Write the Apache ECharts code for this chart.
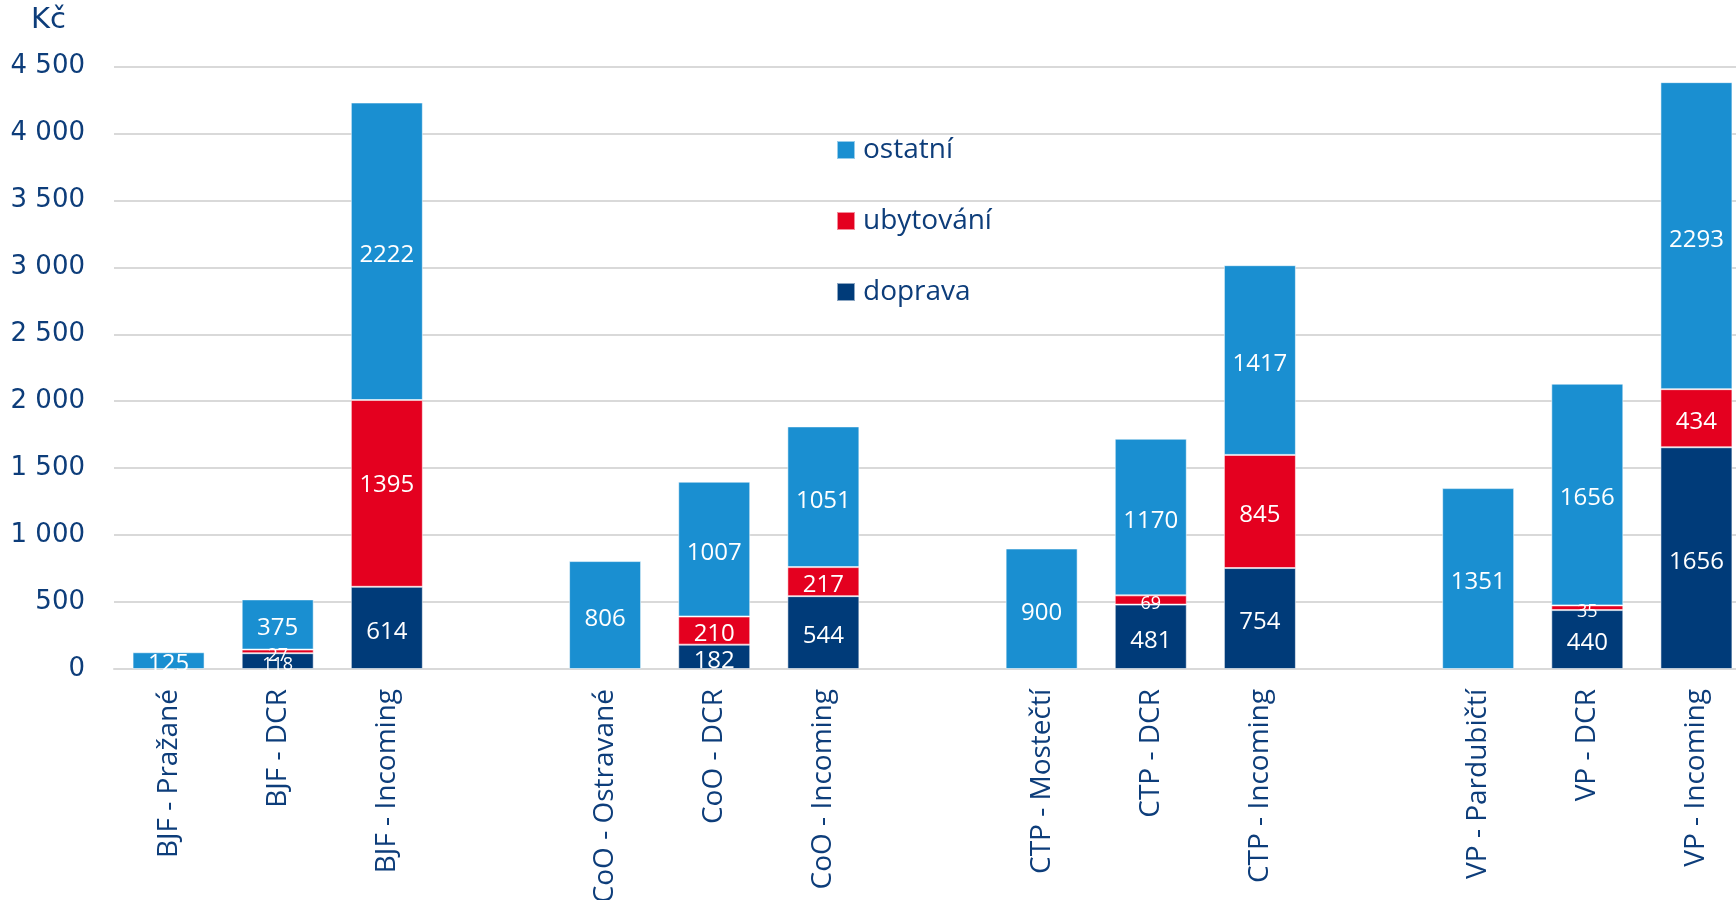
<!DOCTYPE html>
<html>
<head>
<meta charset="utf-8">
<script src="https://cdn.jsdelivr.net/npm/echarts@6/dist/echarts.min.js"></script>
<style>html,body{margin:0;padding:0;background:#fff}#c{width:1736px;height:900px}</style>
</head>
<body>
<div id="c"></div>
<script>
const categories = ['BJF - Pražané','BJF - DCR','BJF - Incoming','',
  'CoO - Ostravané','CoO - DCR','CoO - Incoming','',
  'CTP - Mostečtí','CTP - DCR','CTP - Incoming','',
  'VP - Pardubičtí','VP - DCR','VP - Incoming'];
const doprava   = [null,118,614,null, null,182,544,null, null,481,754,null, null,440,1656];
const ubytovani = [null,27,1395,null, null,210,217,null, null,69,845,null, null,35,434];
const ostatni   = [125,375,2222,null, 806,1007,1051,null, 900,1170,1417,null, 1351,1656,2293];
const yTicks = [0,500,1000,1500,2000,2500,3000,3500,4000,4500];

// indices whose labels are drawn in a smaller font
const smallDoprava = [1];
const smallUbyt = [1,9,13];
// labels placed higher than centre in the original
const raisedUbyt = [2];

const NAVY = '#0d3d7a';
const FONT_LABEL = '"Open Sans", "Noto Sans", sans-serif';

function mk(arr, small, raised) {
  return arr.map((v,i) => {
    if (v === null) return '-';
    const o = {value: v};
    if (small.indexOf(i) >= 0) o.label = {fontSize: 18};
    if (raised.indexOf(i) >= 0) o.label = {offset: [0, -8]};
    return o;
  });
}

function series(name, arr, color, small, raised) {
  return {
    name: name, type: 'bar', stack: 'a', barWidth: 72,
    itemStyle: {color: color, borderColor: 'rgba(255,255,255,0.55)', borderWidth: 1},
    label: {show: true, position: 'inside', color: '#fff', fontSize: 24, offset: [0, 4],
      fontFamily: FONT_LABEL, formatter: p => String(p.value)},
    data: mk(arr, small, raised)
  };
}

const chart = echarts.init(document.getElementById('c'), null, {renderer: 'canvas'});
chart.setOption({
  animation: false,
  title: {text: 'Kč', left: 31, top: 6, padding: 0,
    textStyle: {color: NAVY, fontSize: 29, fontWeight: 'normal', fontFamily: '"DejaVu Sans", sans-serif'}},
  legend: {
    orient: 'vertical', left: 836, top: 136, padding: 0, itemWidth: 18, itemHeight: 18, itemGap: 43,
    data: ['ostatní','ubytování','doprava'],
    icon: 'rect',
    textStyle: {color: NAVY, fontSize: 28, lineHeight: 28, fontFamily: FONT_LABEL, padding: [0,0,0,3]}
  },
  grid: {left: 114, right: -15, top: 66.5, bottom: 231, containLabel: false, outerBoundsMode: 'none'},
  xAxis: {
    type: 'category', data: categories,
    axisLine: {lineStyle: {color: '#d9d9d9', width: 2}},
    axisTick: {show: false},
    axisLabel: {rotate: 90, interval: 0, margin: 20, color: NAVY, fontSize: 28, fontFamily: FONT_LABEL}
  },
  yAxis: {
    type: 'value', min: 0, max: 4500, interval: 500,
    axisLine: {show: false}, axisTick: {show: false},
    splitLine: {lineStyle: {color: '#d9d9d9', width: 2}},
    axisLabel: {margin: 29, color: NAVY, fontSize: 26, fontFamily: '"DejaVu Sans", sans-serif',
      formatter: v => yTicks.indexOf(v) >= 0 ? String(v).replace(/\B(?=(\d{3})+(?!\d))/g, ' ') : ''}
  },
  series: [
    series('doprava', doprava, '#003b79', smallDoprava, []),
    series('ubytování', ubytovani, '#e4001f', smallUbyt, raisedUbyt),
    series('ostatní', ostatni, '#1a8fd1', [], [])
  ]
});
</script>
</body>
</html>
